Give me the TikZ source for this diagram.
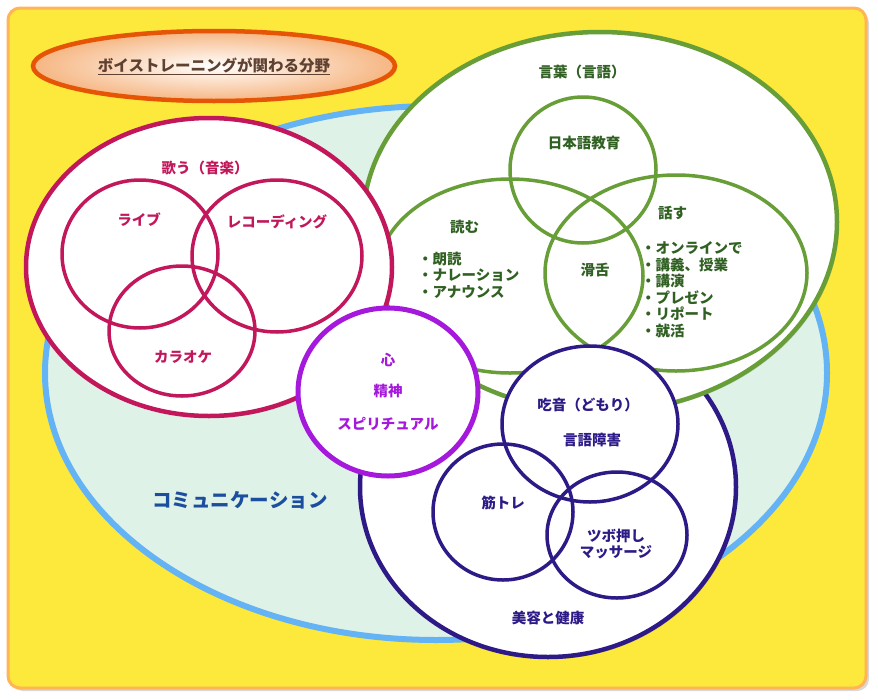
\documentclass[tikz,border=0pt]{standalone}
\usepackage{fontspec}
\setmainfont{Noto Sans CJK JP}
\usetikzlibrary{shadows}
\definecolor{Yellow}{RGB}{253,232,60}
\definecolor{FrameLine}{RGB}{255,180,85}
\definecolor{Comm}{RGB}{223,242,232}
\definecolor{CommLine}{RGB}{100,180,245}
\definecolor{CommText}{RGB}{28,78,160}
\definecolor{Sing}{RGB}{194,24,91}
\definecolor{Word}{RGB}{104,158,56}
\definecolor{WordText}{RGB}{48,96,34}
\definecolor{Mind}{RGB}{165,25,220}
\definecolor{Body}{RGB}{46,26,135}
\definecolor{TitleLine}{RGB}{230,85,5}
\definecolor{TitleFill}{RGB}{246,182,130}
\definecolor{TitleText}{RGB}{95,65,50}
\tikzset{LabelStyle/.style = {font=\bfseries\fontsize{14.5}{16.5}\selectfont, inner sep=0pt},
  Shade/.style = {drop shadow={shadow xshift=2pt, shadow yshift=-2pt, opacity=.25}},
  Ring/.style = {draw=#1, line width=3.5pt},
  BigRing/.style = {draw=#1, line width=4.5pt, fill=white, Shade}}

\begin{document}
\begin{tikzpicture}[x=1pt,y=-1pt]
\useasboundingbox (0,0) rectangle (878,699);
\draw[draw=FrameLine, line width=3pt, fill=Yellow, rounded corners=12pt,
  drop shadow={shadow xshift=3pt, shadow yshift=-3pt, opacity=.3}] (8,8) rectangle (866,688);

\path[draw=TitleLine, line width=4.5pt, inner color=white, outer color=TitleFill, Shade]
  (214,66) ellipse [x radius=181pt, y radius=35pt];
\node[LabelStyle, font=\bfseries\fontsize{15.5}{18}\selectfont, text=TitleText] (title) at (214,66)
  {\underline{ボイストレーニングが関わる分野}};

\draw[draw=CommLine, line width=6pt, fill=Comm, Shade] (436,373) ellipse [x radius=391pt, y radius=267pt];
\node[LabelStyle, font=\bfseries\fontsize{19.5}{22}\selectfont, text=CommText] (comm) at (240,500) {コミュニケーション};

\draw[BigRing=Body] (548,487) ellipse [x radius=188pt, y radius=170pt];

\draw[BigRing=Word] (600,222) ellipse [x radius=237pt, y radius=190pt];
\draw[Ring=Word] (583,170) circle [radius=73pt];
\draw[Ring=Word] (510,276) ellipse [x radius=133pt, y radius=97pt];
\draw[Ring=Word] (676,273) ellipse [x radius=131pt, y radius=98pt];
\node[LabelStyle, text=WordText] (word) at (582,72) {言葉（言語）};
\node[LabelStyle, text=WordText] (nihongo) at (584,143) {日本語教育};
\node[LabelStyle, text=WordText, anchor=west] (read) at (450,227) {読む};
\node[LabelStyle, text=WordText, anchor=north west, align=left] (readlist) at (418,251.5)
  {・朗読\\・ナレーション\\・アナウンス};
\node[LabelStyle, text=WordText] (katsuzetsu) at (595,270) {滑舌};
\node[LabelStyle, text=WordText, anchor=west] (talk) at (658,213) {話す};
\node[LabelStyle, text=WordText, anchor=north west, align=left] (talklist) at (641,241.5)
  {・オンラインで\\・講義、授業\\・講演\\・プレゼン\\・リポート\\・就活};

\fill[white] (590,424) ellipse [x radius=88pt, y radius=78pt];
\draw[Ring=Body] (590,424) ellipse [x radius=88pt, y radius=78pt];
\draw[Ring=Body] (503,512) ellipse [x radius=70pt, y radius=68pt];
\draw[Ring=Body] (617,535) ellipse [x radius=70pt, y radius=63pt];
\node[LabelStyle, text=Body] (kitsuon) at (588,405) {吃音（どもり）};
\node[LabelStyle, text=Body] (gengo) at (592,440) {言語障害};
\node[LabelStyle, text=Body] (kintore) at (503,503) {筋トレ};
\node[LabelStyle, text=Body, anchor=north, align=center] (tsubo) at (616,528.5) {ツボ押し\\マッサージ};
\node[LabelStyle, text=Body] (biyou) at (548,618) {美容と健康};

\draw[BigRing=Sing] (209,267) ellipse [x radius=183pt, y radius=149pt];
\draw[Ring=Sing] (140,254) ellipse [x radius=78pt, y radius=74pt];
\draw[Ring=Sing] (277,256) ellipse [x radius=85pt, y radius=76pt];
\draw[Ring=Sing] (182,331) ellipse [x radius=73pt, y radius=65pt];
\node[LabelStyle, text=Sing] (sing) at (205,168) {歌う（音楽）};
\node[LabelStyle, text=Sing] (live) at (139,220) {ライブ};
\node[LabelStyle, text=Sing] (rec) at (277,222) {レコーディング};
\node[LabelStyle, text=Sing] (karaoke) at (183,357) {カラオケ};

\draw[BigRing=Mind, line width=5pt] (388,392) ellipse [x radius=90pt, y radius=84pt];
\node[LabelStyle, text=Mind] (kokoro) at (388,360) {心};
\node[LabelStyle, text=Mind] (seishin) at (388,391) {精神};
\node[LabelStyle, text=Mind] (spirit) at (388,424) {スピリチュアル};
\end{tikzpicture}
\end{document}
